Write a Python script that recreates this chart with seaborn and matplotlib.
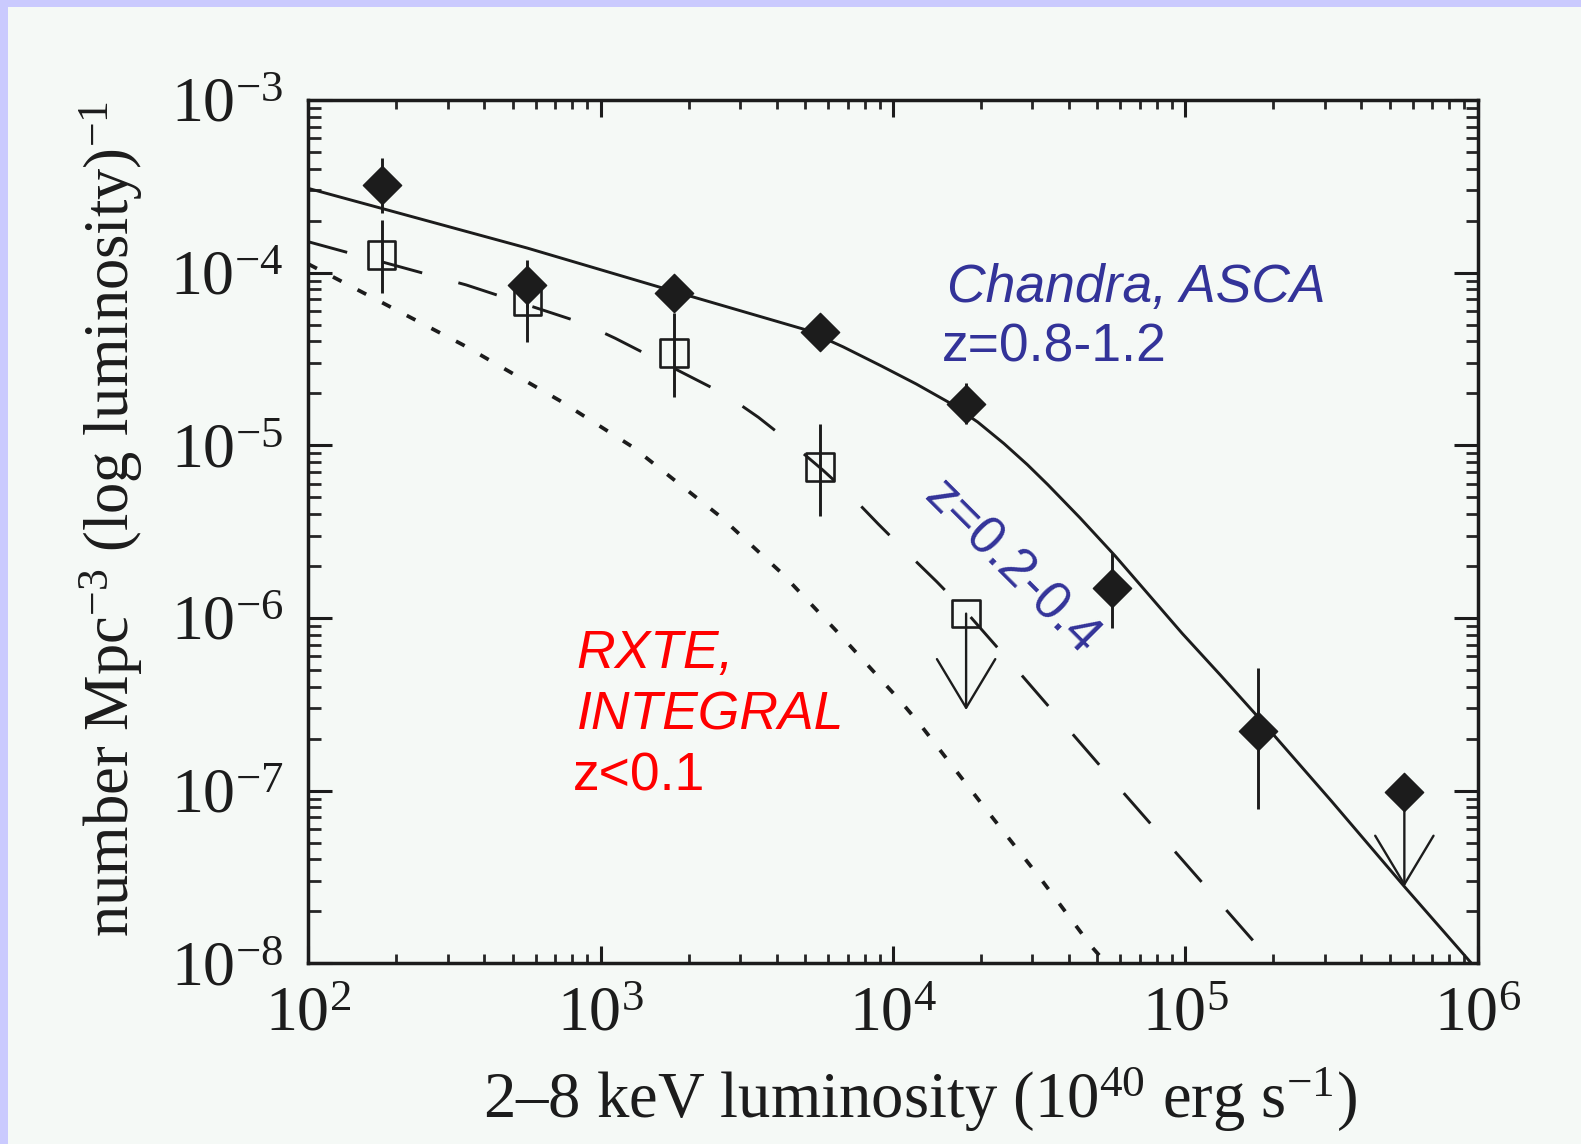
import numpy as np
import pandas as pd
import matplotlib
matplotlib.use("Agg")
import matplotlib.pyplot as plt
from matplotlib.patches import Rectangle
from matplotlib.ticker import LogLocator, FuncFormatter, NullFormatter
import seaborn as sns

# ---------------------------------------------------------------- data
# luminosity bin centres (1e40 erg/s)
lum_bins = [178, 562, 1780, 5620, 17800, 56200, 178000, 562000]

# Chandra + ASCA, z = 0.8-1.2 (filled diamonds)
hiz_phi = [3.22e-4, 8.5e-5, 7.65e-5, 4.55e-5, 1.73e-5, 1.49e-6, 2.21e-7, 9.8e-8]
hiz_top = [4.6e-4, 1.18e-4, 7.65e-5, 4.55e-5, 2.29e-5, 2.37e-6, 5.1e-7, 9.8e-8]
hiz_bot = [2.21e-4, 6.3e-5, 7.65e-5, 4.55e-5, 1.32e-5, 8.7e-7, 7.8e-8, 9.8e-8]
hiz_is_limit = [False, False, False, False, False, False, False, True]
hiz_limit_to = 2.78e-8

# z = 0.2-0.4 (open squares)
midz_lum = [178, 562, 1780, 5620, 17800]
midz_phi = [1.26e-4, 6.8e-5, 3.41e-5, 7.46e-6, 1.06e-6]
midz_top = [2.02e-4, 1.05e-4, 5.83e-5, 1.33e-5, 1.06e-6]
midz_bot = [7.6e-5, 3.98e-5, 1.91e-5, 3.9e-6, 1.06e-6]
midz_is_limit = [False, False, False, False, True]
midz_limit_to = 2.93e-7

# model luminosity functions, tabulated as log10 L / log10 phi
hiz_model_logL = [2.0, 2.75, 3.25, 3.70, 3.83, 3.96, 4.08, 4.19, 4.29, 4.38, 4.46,
                  4.53, 4.64, 4.76, 4.87, 4.99, 5.12, 5.25, 5.50, 5.75, 6.0]
hiz_model_logphi = [-3.512, -3.858, -4.108, -4.330, -4.430, -4.540, -4.645, -4.750,
                    -4.865, -4.990, -5.112, -5.228, -5.420, -5.640, -5.855, -6.090,
                    -6.330, -6.575, -7.060, -7.556, -8.04]

midz_model_logL = [2.0, 2.54, 2.94, 3.05, 3.43, 3.54, 3.65, 3.76, 3.86, 3.95, 4.05,
                   4.15, 4.25, 4.43, 4.79, 5.15, 5.30]
midz_model_logphi = [-3.821, -4.071, -4.293, -4.380, -4.709, -4.838, -4.985, -5.143,
                     -5.298, -5.456, -5.625, -5.790, -5.964, -6.311, -7.015, -7.710, -8.0]

lowz_model_logL = [2.0, 2.53, 2.86, 3.11, 3.41, 3.62, 3.82, 4.02, 4.09, 4.32, 4.50, 4.68, 4.73]
lowz_model_logphi = [-3.95, -4.419, -4.741, -5.01, -5.413, -5.741, -6.099, -6.47,
                     -6.61, -7.112, -7.498, -7.904, -8.0]

x_range = (1e2, 1e6)
y_range = (1e-8, 1e-3)

# ---------------------------------------------------------------- style
BG = "#f5f9f6"
INK = "#1c1c1c"
BLUE = "#333399"
RED = "#ff0000"

sns.set_style("ticks")
plt.rcParams["font.family"] = ["Liberation Serif", "DejaVu Serif"]
plt.rcParams["mathtext.fontset"] = "custom"
plt.rcParams["mathtext.rm"] = "Liberation Serif"
plt.rcParams["mathtext.it"] = "Liberation Serif:italic"
plt.rcParams["mathtext.bf"] = "Liberation Serif:bold"
plt.rcParams["lines.scale_dashes"] = False

fig = plt.figure(figsize=(15.81, 11.44), dpi=100, facecolor=BG)
# lavender frame along the top and left edges
fig.patches.append(Rectangle((0, 1 - 7 / 1144), 1, 7 / 1144, transform=fig.transFigure,
                             facecolor="#cacafe", edgecolor="none", zorder=-1))
fig.patches.append(Rectangle((0, 0), 8 / 1581, 1, transform=fig.transFigure,
                             facecolor="#cacafe", edgecolor="none", zorder=-1))

ax = fig.add_axes([0.19501, 0.15796, 0.73953, 0.75463])
ax.set_facecolor(BG)

# ---------------------------------------------------------------- model curves
curves = pd.DataFrame({
    "L": np.concatenate([10 ** np.array(hiz_model_logL), 10 ** np.array(midz_model_logL),
                         10 ** np.array(lowz_model_logL)]),
    "phi": np.concatenate([10 ** np.array(hiz_model_logphi), 10 ** np.array(midz_model_logphi),
                           10 ** np.array(lowz_model_logphi)]),
    "sample": (["hiz"] * len(hiz_model_logL) + ["midz"] * len(midz_model_logL)
               + ["lowz"] * len(lowz_model_logL)),
})
line_styles = {
    "hiz": ("-", 2.1),
    "midz": ((0, (29, 27)), 2.1),
    "lowz": ((0, (7, 13)), 2.7),
}
for name, (ls, lw) in line_styles.items():
    sub = curves[curves["sample"] == name]
    sns.lineplot(data=sub, x="L", y="phi", ax=ax, color=INK, lw=lw, linestyle=ls,
                 estimator=None, sort=True, legend=False, zorder=2)

# ---------------------------------------------------------------- error bars
ax.vlines(lum_bins, hiz_bot, hiz_top, color=INK, lw=2.1, zorder=3)
ax.vlines(midz_lum, midz_bot, midz_top, color=INK, lw=2.1, zorder=3)

# upper limits
arrow_kw = dict(arrowstyle="->,head_length=35,head_width=21", mutation_scale=1,
                lw=1.7, color=INK, shrinkA=0, shrinkB=0)
for L, phi, lim in zip(lum_bins, hiz_phi, hiz_is_limit):
    if lim:
        ax.annotate("", xy=(L, hiz_limit_to), xytext=(L, phi), arrowprops=arrow_kw, zorder=3)
for L, phi, lim in zip(midz_lum, midz_phi, midz_is_limit):
    if lim:
        ax.annotate("", xy=(L, midz_limit_to), xytext=(L, phi), arrowprops=arrow_kw, zorder=3)

# ---------------------------------------------------------------- data points
sns.scatterplot(x=lum_bins, y=hiz_phi, ax=ax, marker="D", s=19.5 ** 2, color=INK,
                edgecolor=INK, linewidth=1.0, zorder=5, legend=False)
sns.scatterplot(x=midz_lum, y=midz_phi, ax=ax, marker="s", s=20 ** 2, color=INK,
                edgecolor=INK, linewidth=1.9, zorder=4, legend=False)
ax.collections[-1].set_facecolor("none")

# ---------------------------------------------------------------- axes
ax.set_xscale("log")
ax.set_yscale("log")
ax.set_xlim(*x_range)
ax.set_ylim(*y_range)

def pow10(v, pos):
    return r"$10^{%d}$" % int(round(np.log10(v)))

for axis in (ax.xaxis, ax.yaxis):
    axis.set_major_locator(LogLocator(base=10, numticks=20))
    axis.set_minor_locator(LogLocator(base=10, subs=np.arange(2, 10), numticks=100))
    axis.set_major_formatter(FuncFormatter(pow10))
    axis.set_minor_formatter(NullFormatter())

for s in ax.spines.values():
    s.set_visible(True)
    s.set_linewidth(2.5)
    s.set_color(INK)

ax.tick_params(axis="x", which="major", direction="in", length=12, width=2.2,
               top=True, bottom=True, pad=17, labelsize=46, colors=INK)
ax.tick_params(axis="x", which="minor", direction="in", length=6.5, width=2.0,
               top=True, bottom=True)
ax.tick_params(axis="y", which="major", direction="in", length=17.5, width=2.2,
               left=True, right=True, pad=18, labelsize=46, colors=INK)
ax.tick_params(axis="y", which="minor", direction="in", length=9, width=2.0,
               left=True, right=True)

ax.set_xlabel(r"2–8 keV luminosity (10$^{40}$ erg s$^{-1}$)", fontsize=46.5, color=INK)
ax.set_ylabel(r"number Mpc$^{-3}$ (log luminosity)$^{-1}$", fontsize=45, color=INK)
ax.xaxis.set_label_coords(0.523, -0.118)
ax.yaxis.set_label_coords(-0.140, 0.515)

# ---------------------------------------------------------------- annotations
sans = ["Liberation Sans", "DejaVu Sans"]
FS = 38.5
ax.text(0.546, 0.7663, "Chandra, ASCA", transform=ax.transAxes, family=sans,
        style="italic", fontsize=FS, color=BLUE, ha="left", va="baseline")
ax.text(0.5417, 0.6969, "z=0.8-1.2", transform=ax.transAxes, family=sans,
        fontsize=FS, color=BLUE, ha="left", va="baseline")
ax.text(0.6016, 0.4579, "z=0.2-0.4", transform=ax.transAxes, family=sans,
        fontsize=FS, color=BLUE, ha="center", va="center", rotation=-45,
        rotation_mode="anchor")
ax.text(0.2296, 0.3417, "RXTE,", transform=ax.transAxes, family=sans,
        style="italic", fontsize=FS, color=RED, ha="left", va="baseline")
ax.text(0.2296, 0.2711, "INTEGRAL", transform=ax.transAxes, family=sans,
        style="italic", fontsize=FS, color=RED, ha="left", va="baseline")
ax.text(0.2266, 0.2007, "z<0.1", transform=ax.transAxes, family=sans,
        fontsize=FS, color=RED, ha="left", va="baseline")

fig.savefig("out.png", dpi=100, facecolor=fig.get_facecolor())
